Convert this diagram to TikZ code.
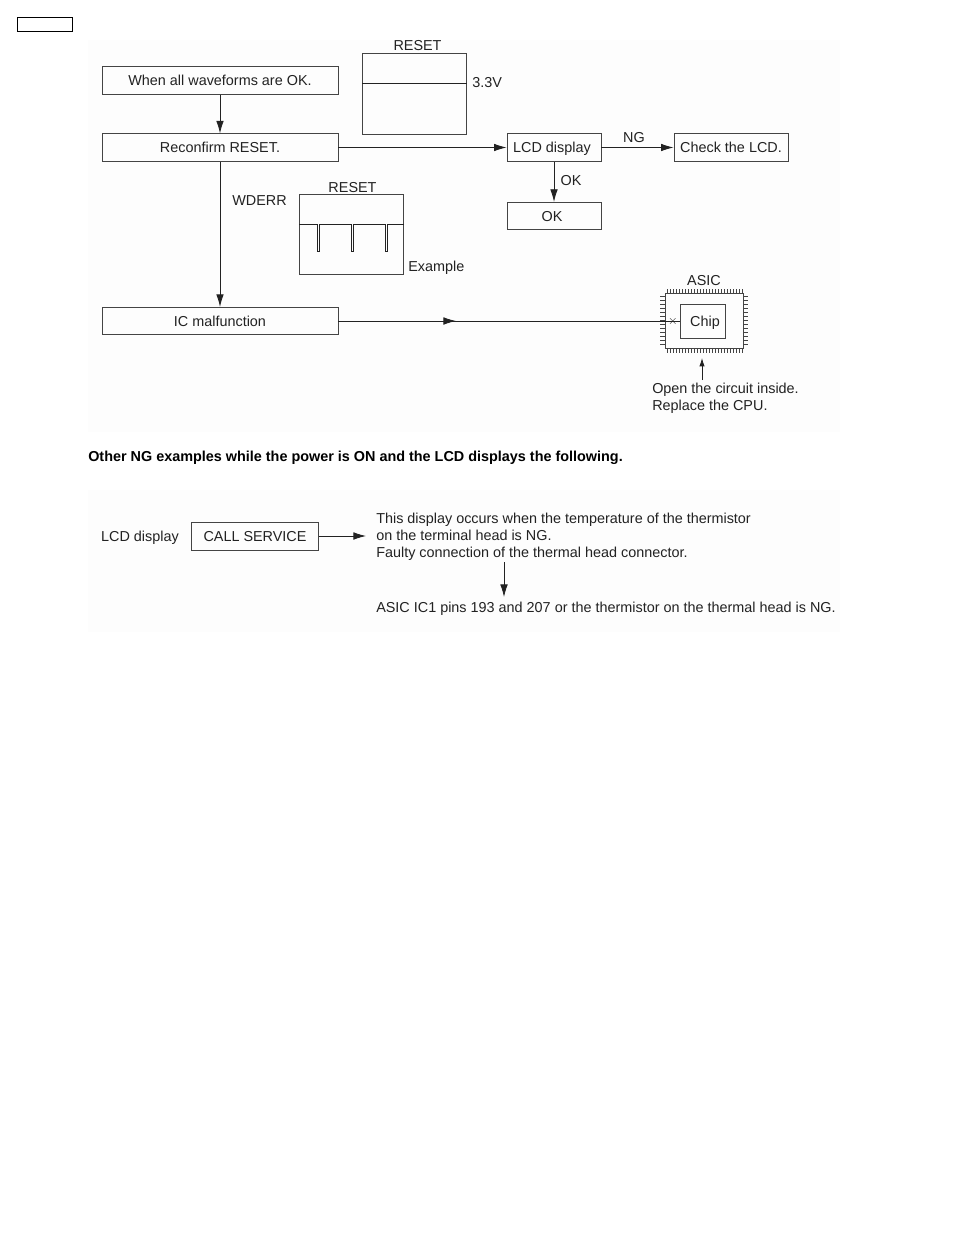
\documentclass[tikz,border=0pt]{standalone}
\usepackage{fontspec}
\setmainfont{Liberation Sans}
\usetikzlibrary{arrows.meta,calc,positioning}
\definecolor{SvcInk}{HTML}{222222}
\definecolor{SvcLine}{HTML}{444444}
\definecolor{SvcPale}{HTML}{FDFDFD}
\begin{document}
\begin{tikzpicture}[
      x=0.75pt,y=-0.75pt,
      >={Latex[length=3.3mm,width=2mm]},
      flow/.style={->,line width=0.6pt,draw=SvcInk},
      flowpart/.style={line width=0.6pt,draw=SvcInk},
      item/.style={draw=SvcLine,line width=0.7pt,inner sep=0pt,align=center,
        text=SvcInk,font=\fontsize{10.8}{13}\selectfont,text height=7.7pt,text depth=0pt,
        minimum height=20.5pt},
      longitem/.style={item,minimum width=177pt},
      midnote/.style={text=SvcInk,inner sep=0pt,font=\fontsize{10.8}{13}\selectfont,
        text height=7.7pt,text depth=0pt},
      blocknote/.style={text=SvcInk,inner sep=0pt,anchor=north west,align=left,
        font=\fontsize{10.8}{12.8}\selectfont},
      scopebox/.style={draw=SvcLine,line width=0.7pt,inner sep=0pt,minimum width=77.5pt,minimum height=60.5pt},
      trace/.style={line width=0.7pt,draw=SvcInk},
      pin/.style={line width=0.5pt,draw=SvcLine}
    ]
    \useasboundingbox (0,0) rectangle (954,1235);
    \fill[SvcPale] (88,40) rectangle (840,432);
    \fill[SvcPale] (88,490) rectangle (840,632);
    \node[draw=black,line width=0.8pt,minimum width=41.5pt,minimum height=10.5pt,inner sep=0pt] (tag) at (45,24.5) {};

    \node[longitem] (allok) at (220,80.5) {When all waveforms are OK.};
    \node[longitem] (reconfirm) at (220,147.5) {Reconfirm RESET.};
    \node[longitem] (malfunction) at (220,321) {IC malfunction};
    \node[item,minimum width=70.5pt] (lcd) at (554,147.5) {LCD display\hspace*{3pt}};
    \node[item,minimum width=85.5pt] (checklcd) at (731,147.5) {Check the LCD.};
    \node[item,minimum width=70.5pt] (okbox) at (554,216) {OK\hspace*{3pt}};
    \draw[flow] (allok) -- (reconfirm);
    \draw[flow] (reconfirm) -- (malfunction);
    \draw[flow] (reconfirm) -- (lcd);
    \draw[flow] (lcd) -- (checklcd);
    \draw[flow] (lcd) -- (okbox);
    \node[midnote] (nglabel) at (634,137) {NG};
    \node[midnote] (oklabel) at (571,180) {OK};

    \node[scopebox] (scopea) at (414.5,94) {};
    \node[midnote] (reseta) at (417.5,45) {RESET};
    \node[midnote,anchor=west] (volt) at (472,82) {3.3V};
    \draw[trace] (scopea.west |- 0,83) -- (scopea.east |- 0,83);

    \node[scopebox] (scopeb) at (351.5,234.5) {};
    \node[midnote] (resetb) at (352.5,187) {RESET};
    \node[midnote] (wderr) at (259.5,200) {WDERR};
    \node[midnote,anchor=west] (example) at (408,266) {Example};
    \draw[trace] (scopeb.west |- 0,224) -- (317,224) -- (317,251) -- (319,251) -- (319,224)
      -- (351,224) -- (351,251) -- (353,251) -- (353,224)
      -- (385,224) -- (385,251) -- (387,251) -- (387,224) -- (scopeb.east |- 0,224);

    \node[draw=SvcLine,line width=0.7pt,inner sep=0pt,minimum width=58.5pt,minimum height=41.25pt] (asic) at (704,320.5) {};
    \node[draw=SvcLine,line width=0.7pt,inner sep=0pt,minimum width=33.5pt,minimum height=25.5pt,
      text=SvcInk,font=\fontsize{10.8}{13}\selectfont,text height=7.7pt,text depth=0pt] (chip) at (703,321) {\hspace*{3pt}Chip};
    \node[midnote] (asiclabel) at (704,280) {ASIC};
    \foreach \px in {667,670,...,742} {
      \draw[pin] (\px,289) -- (\px,293);
      \draw[pin] (\px,348) -- (\px,353);
    }
    \foreach \py in {296,300,...,346} {
      \draw[pin] (660,\py) -- (665,\py);
      \draw[pin] (743,\py) -- (748,\py);
    }
    \draw[flowpart] (malfunction) -- (chip);
    \coordinate (midtip) at (456,321);
    \draw[flow] (malfunction) -- (midtip);
    \node[font=\fontsize{9}{9}\selectfont,text=SvcInk,inner sep=0pt] (cross) at (673,321) {$\times$};

    \coordinate (asicfoot) at (702,380);
    \coordinate (asichead) at (702,358);
    \draw[flow,>={Latex[length=2.2mm,width=1.4mm]}] (asicfoot) -- (asichead);
    \node[blocknote] (replace) at (652,382.5)
      {Open the circuit inside.\\Replace the CPU.};

    \node[anchor=west,inner sep=0pt,text=black,font=\bfseries\fontsize{10.8}{13}\selectfont] (heading) at (88,458)
      {Other NG examples while the power is ON and the LCD displays the following.};

    \node[midnote] (lcdlabel) at (140,536.5) {LCD display};
    \node[item,minimum width=95pt,minimum height=21pt] (callservice) at (255,536) {CALL SERVICE};
    \node[blocknote] (occurs) at (376,512.5)
      {This display occurs when the temperature of the thermistor\\on the terminal head is NG.\\Faulty connection of the thermal head connector.};
    \coordinate (callhead) at (366,536);
    \draw[flow] (callservice) -- (callhead);
    \node[midnote,anchor=west] (pins) at (376,607)
      {ASIC IC1 pins 193 and 207 or the thermistor on the thermal head is NG.};
    \coordinate (downfoot) at (504,562);
    \coordinate (downhead) at (504,597);
    \draw[flow] (downfoot) -- (downhead);
  \end{tikzpicture}
\end{document}
